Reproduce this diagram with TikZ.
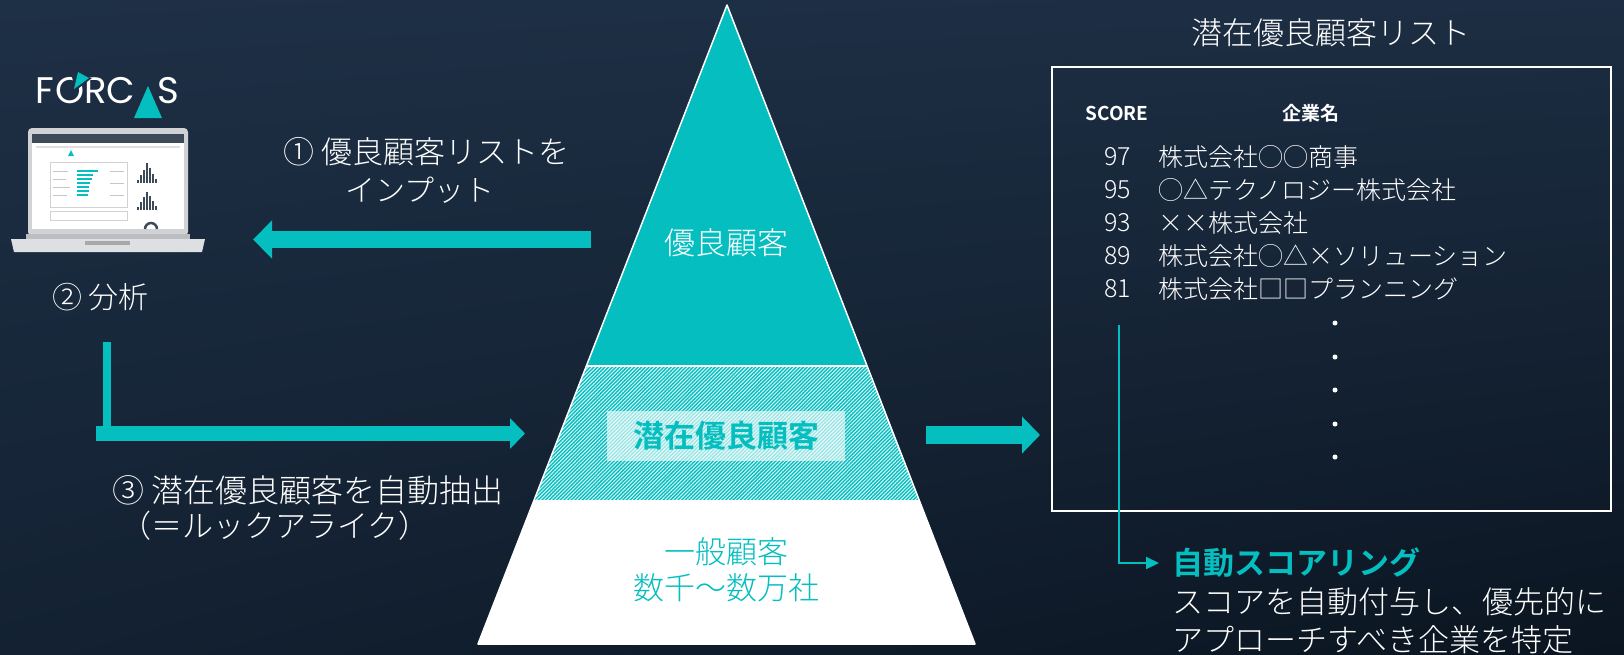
\documentclass[tikz,border=0pt]{standalone}
\usepackage{fontspec}
\IfFontExistsTF{Noto Sans CJK JP Light}
  {\setmainfont{Noto Sans CJK JP Light}[BoldFont={Noto Sans CJK JP Bold}]}
  {\setmainfont{Noto Sans CJK JP}}
\newfontfamily\logoFont{Poppins}
\usepackage{tikz}
\usepackage{xcolor}
\usetikzlibrary{positioning}
\usetikzlibrary{arrows.meta}
\usetikzlibrary{patterns.meta}
\usetikzlibrary{shadings}
\definecolor{themeColor}{RGB}{4,190,192}
\definecolor{bgLight}{RGB}{30,48,70}
\definecolor{bgMid}{RGB}{19,33,50}
\definecolor{bgDark}{RGB}{11,21,33}
\definecolor{laptopGray}{RGB}{208,210,213}
\definecolor{screenDark}{RGB}{62,74,90}

\begin{document}
\begin{tikzpicture}[x=1pt,y=-1pt,
  plainText/.style={inner sep=0pt, text=white, font=\fontsize{30}{38}\selectfont},
  tierText/.style={inner sep=0pt, font=\fontsize{31}{36}\selectfont},
  tierBold/.style={inner sep=0pt, font=\fontsize{31}{36}\selectfont\bfseries},
  listText/.style={inner sep=0pt, text=white, font=\fontsize{25}{30}\selectfont},
  headText/.style={inner sep=0pt, text=white, font=\fontsize{19}{23}\selectfont\bfseries},
  logoLetter/.style={inner sep=0pt, text=white, anchor=base, font=\logoFont\fontsize{37}{37}\selectfont},
  ]
\useasboundingbox (0,0) rectangle (1624,654);
\shade[upper left=bgLight, upper right=bgLight!85!bgMid, lower left=bgMid, lower right=bgDark] (0,0) rectangle (1624,654);

% logo
\node [logoLetter] (logoF) at (45,103) {F};
\node [logoLetter] (logoO) at (70,103) {O};
\node [logoLetter] (logoR) at (96,103) {R};
\node [logoLetter] (logoC) at (121,103) {C};
\node [logoLetter] (logoS) at (168.5,103) {S};
\fill [themeColor] (148,86) -- (162,118) -- (134,118) -- cycle;
\fill [bgLight] (71,72) -- (92,78) -- (75,91) -- cycle;
\fill [themeColor] (78,72) -- (89,78) -- (74,89) -- cycle;

% laptop
\fill [laptopGray, rounded corners=4pt] (28,128) rectangle (188,236);
\fill [white] (32,134) rectangle (184,229);
\fill [screenDark] (32,134) rectangle (184,143);
\fill [gray!25] (36,146) rectangle (180,148);
\draw [gray!35, line width=0.6pt] (50,162) rectangle (127,207);
\draw [gray!35, line width=0.6pt] (50,211) rectangle (127,220);
\fill [themeColor] (68,156) -- (71,150) -- (74,156) -- cycle;
\fill [themeColor] (77,170) rectangle (98,172);
\fill [themeColor] (77,174) rectangle (93,176);
\fill [themeColor] (77,178) rectangle (92,180);
\fill [themeColor] (77,182) rectangle (90,184);
\fill [themeColor] (77,186) rectangle (89,188);
\fill [themeColor] (77,190) rectangle (89,192);
\fill [themeColor] (77,194) rectangle (88,196);
\fill [gray!45] (53,170.5) rectangle (68,171.5);
\fill [gray!45] (53,178.5) rectangle (66,179.5);
\fill [gray!45] (53,186.5) rectangle (70,187.5);
\fill [gray!45] (53,194.5) rectangle (67,195.5);
\fill [gray!45] (110,170.5) rectangle (124,171.5);
\fill [gray!45] (110,182.5) rectangle (124,183.5);
\fill [gray!45] (110,194.5) rectangle (124,195.5);
\fill [screenDark] (137,180) rectangle (139,183);
\fill [screenDark] (140,175) rectangle (142,183);
\fill [screenDark] (143,170) rectangle (145,183);
\fill [screenDark] (146,163) rectangle (148,183);
\fill [screenDark] (149,168) rectangle (151,183);
\fill [screenDark] (152,174) rectangle (154,183);
\fill [screenDark] (155,179) rectangle (157,183);
\fill [screenDark] (137,207) rectangle (139,210);
\fill [screenDark] (140,202) rectangle (142,210);
\fill [screenDark] (143,197) rectangle (145,210);
\fill [screenDark] (146,192) rectangle (148,210);
\fill [screenDark] (149,196) rectangle (151,210);
\fill [screenDark] (152,201) rectangle (154,210);
\fill [screenDark] (155,206) rectangle (157,210);
\draw [screenDark, line width=2.5pt] (145,229) arc [start angle=180, end angle=360, radius=6];
\fill [laptopGray!90!black] (26,234) rectangle (190,241);
\fill [laptopGray!70!white] (11,239) -- (205,239) -- (202,252) -- (14,252) -- cycle;
\fill [laptopGray!80!black] (85,241) rectangle (130,245);

% pyramid
\fill [themeColor] (727,5) -- (867.4,366) -- (586.6,366) -- cycle;
\fill [themeColor] (586.6,366) -- (867.4,366) -- (919.5,500) -- (534.5,500) -- cycle;
\fill [pattern={Lines[angle=45,distance=2.6pt,line width=1pt]}, pattern color=white!85!themeColor]
  (586.6,366) -- (867.4,366) -- (919.5,500) -- (534.5,500) -- cycle;
\fill [white] (534.5,500) -- (919.5,500) -- (975,644) -- (478,644) -- cycle;
\draw [white, line width=1.5pt, line join=round] (727,5) -- (975,644) -- (478,644) -- cycle;
\draw [white, line width=2pt] (586.6,366) -- (867.4,366);

\node [tierText, text=white] (topTier) at (726,243) {優良顧客};
\node [tierBold, text=themeColor, fill=white, fill opacity=0.6, text opacity=1,
  minimum width=238pt, minimum height=50pt] (midTier) at (726,436) {潜在優良顧客};
\node [tierText, text=themeColor] (baseTier) at (726,552) {一般顧客};
\node [tierText, text=themeColor] (baseCount) at (726,588) {数千〜数万社};

% steps on the left
\node [plainText, anchor=west, font=\fontsize{31}{38}\selectfont] (stepOne) at (283,152) {① 優良顧客リストを};
\node [plainText, anchor=west] (stepOneB) at (345,190) {インプット};
\node [plainText, anchor=west] (stepTwo) at (52,297) {② 分析};
\node [plainText, anchor=west, font=\fontsize{32}{38}\selectfont] (stepThree) at (112,490) {③ 潜在優良顧客を自動抽出};
\node [plainText, anchor=west, font=\fontsize{31}{38}\selectfont] (stepThreeB) at (120,526) {（＝ルックアライク）};

\coordinate (inStart) at (591,239.5);
\coordinate (inEnd) at (253,239.5);
\draw [themeColor, line width=17pt, -{Triangle[length=19pt,width=37pt]}] (inStart) -- (inEnd);

\coordinate (pickTop) at (107,342);
\coordinate (pickCorner) at (107,441);
\coordinate (pickStart) at (96,433.5);
\coordinate (pickEnd) at (525,433.5);
\draw [themeColor, line width=8pt] (pickTop) -- (pickCorner);
\draw [themeColor, line width=15pt, -{Triangle[length=15pt,width=30pt]}] (pickStart) -- (pickEnd);

\coordinate (outStart) at (926,435);
\coordinate (outEnd) at (1040,435);
\draw [themeColor, line width=18pt, -{Triangle[length=18pt,width=36pt]}] (outStart) -- (outEnd);

% score list
\node [plainText, anchor=west, font=\fontsize{31}{38}\selectfont] (listTitle) at (1191,33) {潜在優良顧客リスト};
\draw [white, line width=2pt] (1052,67) rectangle (1611,511);
\node [headText] (scoreHead) at (1117,113) {SCORE};
\node [headText] (nameHead) at (1311,113) {企業名};

\node [listText, anchor=east] (scoreA) at (1131,157) {97};
\node [listText, anchor=west] (nameA) at (1158,157) {株式会社◯◯商事};
\node [listText, anchor=east] (scoreB) at (1131,190) {95};
\node [listText, anchor=west] (nameB) at (1158,190) {◯△テクノロジー株式会社};
\node [listText, anchor=east] (scoreC) at (1131,223) {93};
\node [listText, anchor=west] (nameC) at (1158,223) {××株式会社};
\node [listText, anchor=east] (scoreD) at (1131,256) {89};
\node [listText, anchor=west] (nameD) at (1158,256) {株式会社◯△×ソリューション};
\node [listText, anchor=east] (scoreE) at (1131,289) {81};
\node [listText, anchor=west] (nameE) at (1158,289) {株式会社□□プランニング};

\fill [white] (1335,323) circle (2.5pt);
\fill [white] (1335,357) circle (2.5pt);
\fill [white] (1335,390) circle (2.5pt);
\fill [white] (1335,424) circle (2.5pt);
\fill [white] (1335,457) circle (2.5pt);

% scoring note
\node [tierBold, text=themeColor, anchor=west] (autoScore) at (1172,563) {自動スコアリング};
\node [plainText, anchor=west, font=\fontsize{31}{38}\selectfont] (noteA) at (1172,602) {スコアを自動付与し、優先的に};
\node [plainText, anchor=west, font=\fontsize{31}{38}\selectfont] (noteB) at (1172,640) {アプローチすべき企業を特定};
\coordinate (scoreLine) at (1119,325);
\draw [themeColor, line width=2pt, -{Triangle[length=13pt,width=12pt]}] (scoreLine) |- ([xshift=-13pt]autoScore.west);
\end{tikzpicture}
\end{document}
